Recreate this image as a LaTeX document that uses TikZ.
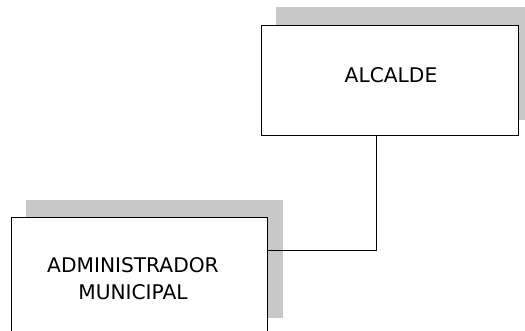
\documentclass[tikz,border=0pt]{standalone}
\usepackage{fontspec}
\setmainfont{DejaVu Sans}
\definecolor{shadowgray}{HTML}{C8C8C8}
\begin{document}
\begin{tikzpicture}[x=1pt,y=-1pt,
  shadowbox/.style={fill=shadowgray,draw=none,inner sep=0pt,anchor=north west},
  orgbox/.style={draw=black,fill=white,line width=1.3pt,inner sep=0pt,anchor=north west},
  lbl/.style={font=\fontsize{20.2}{27}\selectfont,align=center,inner sep=0pt},
  conn/.style={draw=black,line width=1pt}]
\useasboundingbox (0,0) rectangle (525,331);
\clip (0,0) rectangle (525,331);
% shadows
\node[shadowbox,minimum width=260pt,minimum height=113pt] (s1) at (276,7) {};
\node[shadowbox,minimum width=257pt,minimum height=118pt] (s2) at (26,200) {};
% boxes
\node[orgbox,minimum width=257pt,minimum height=110pt] (b1) at (261,25) {};
\node[orgbox,minimum width=256pt,minimum height=130pt] (b2) at (11,217) {};
% labels
\node[lbl] (t1) at (391,75.5) {ALCALDE};
\node[lbl] (t2) at (133,279) {ADMINISTRADOR\\MUNICIPAL};
% connector
\coordinate (c) at (376,251);
\draw[conn] (c |- b1.south) -- (c) -- (c -| b2.east);
\end{tikzpicture}
\end{document}
